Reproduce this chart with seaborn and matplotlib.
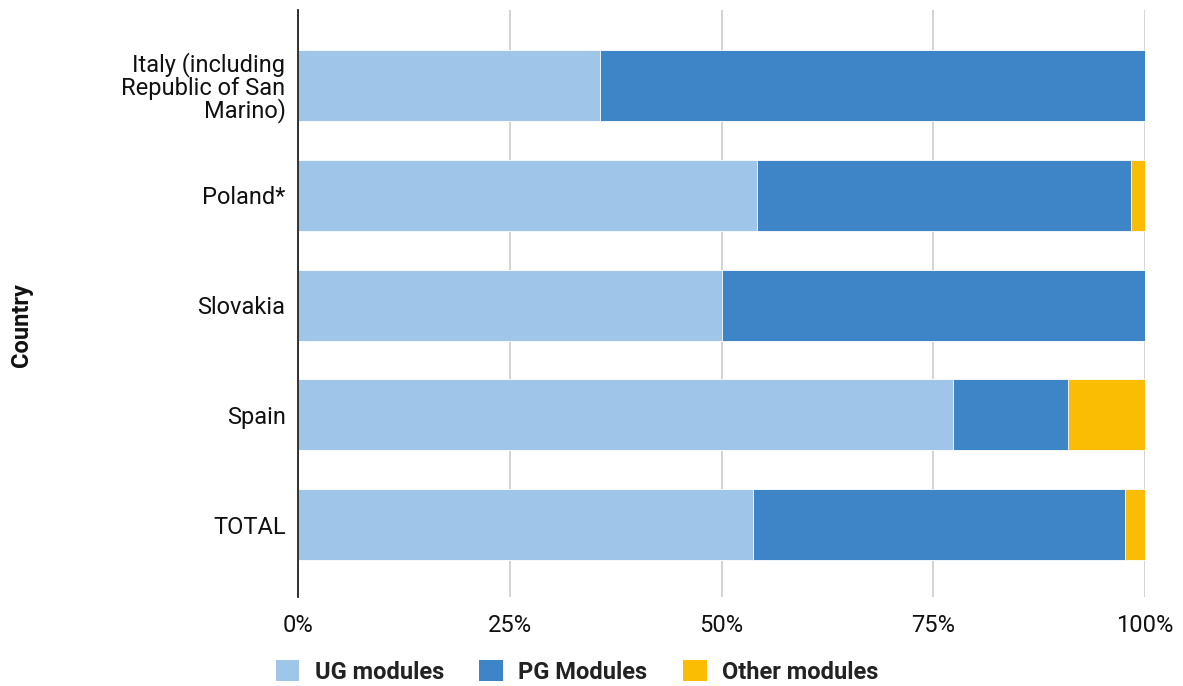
import matplotlib
matplotlib.use("Agg")
import matplotlib.pyplot as plt
import seaborn as sns
import numpy as np
from matplotlib.ticker import FuncFormatter

countries = ["Italy (including\nRepublic of San\nMarino)", "Poland*", "Slovakia", "Spain", "TOTAL"]
ug_modules = [35.6, 54.2, 50.0, 77.3, 53.7]
pg_modules = [64.4, 44.1, 50.0, 13.6, 43.9]
other_modules = [0.0, 1.7, 0.0, 9.1, 2.4]

series_names = ["UG modules", "PG Modules", "Other modules"]
colors = ["#9fc5e8", "#3d85c6", "#fbbc04"]

sns.set_theme(style="white")
plt.rcParams["font.family"] = ["Roboto", "DejaVu Sans"]

fig = plt.figure(figsize=(11.83, 6.86), dpi=100)
ax = fig.add_axes([298 / 1183, 1 - 597 / 686, (1145 - 298) / 1183, (597 - 10) / 686])

ug = np.array(ug_modules)
pg = np.array(pg_modules)
ot = np.array(other_modules)

# stacked horizontal bars: draw cumulative totals back to front
layers = [ug + pg + ot, ug + pg, ug]
layer_colors = [colors[2], colors[1], colors[0]]
for vals, col in zip(layers, layer_colors):
    sns.barplot(x=vals, y=countries, orient="h", color=col, width=0.645,
                ax=ax, saturation=1, edgecolor="white", linewidth=0.6)

ax.set_xlim(0, 100)
ax.set_ylim(4.66, -0.69)
ax.set_xticks([0, 25, 50, 75, 100])
ax.xaxis.set_major_formatter(FuncFormatter(lambda v, p: f"{int(v)}%"))
ax.grid(axis="x", color="#cccccc", linewidth=1.2)
ax.set_axisbelow(True)
for s in ["top", "right", "bottom"]:
    ax.spines[s].set_visible(False)
ax.spines["left"].set_color("#222222")
ax.spines["left"].set_linewidth(1.3)
ax.spines["left"].set_zorder(5)
ax.tick_params(axis="both", length=0, labelsize=17, colors="#111111")
ax.tick_params(axis="y", pad=9)
ax.tick_params(axis="x", pad=12)
for lbl in ax.get_yticklabels():
    lbl.set_horizontalalignment("right")
    lbl.set_multialignment("right")
    lbl.set_linespacing(0.95)

ax.set_xlabel("")
ax.set_ylabel("")
fig.text(22 / 1183, 1 - 325 / 686, "Country", rotation=90, ha="center", va="center",
         fontsize=17, fontweight="bold", color="#111111")

handles = [plt.Rectangle((0, 0), 1, 1, facecolor=c, edgecolor="none") for c in colors]
leg = fig.legend(handles, series_names, loc="center", bbox_to_anchor=(577 / 1183, 1 - 672 / 686),
                 ncol=3, frameon=False, handlelength=1.0, handleheight=1.0, handletextpad=0.65,
                 columnspacing=1.5, prop={"size": 17, "weight": "bold"})
for t in leg.get_texts():
    t.set_color("#222222")

fig.savefig("out.png", dpi=100)
